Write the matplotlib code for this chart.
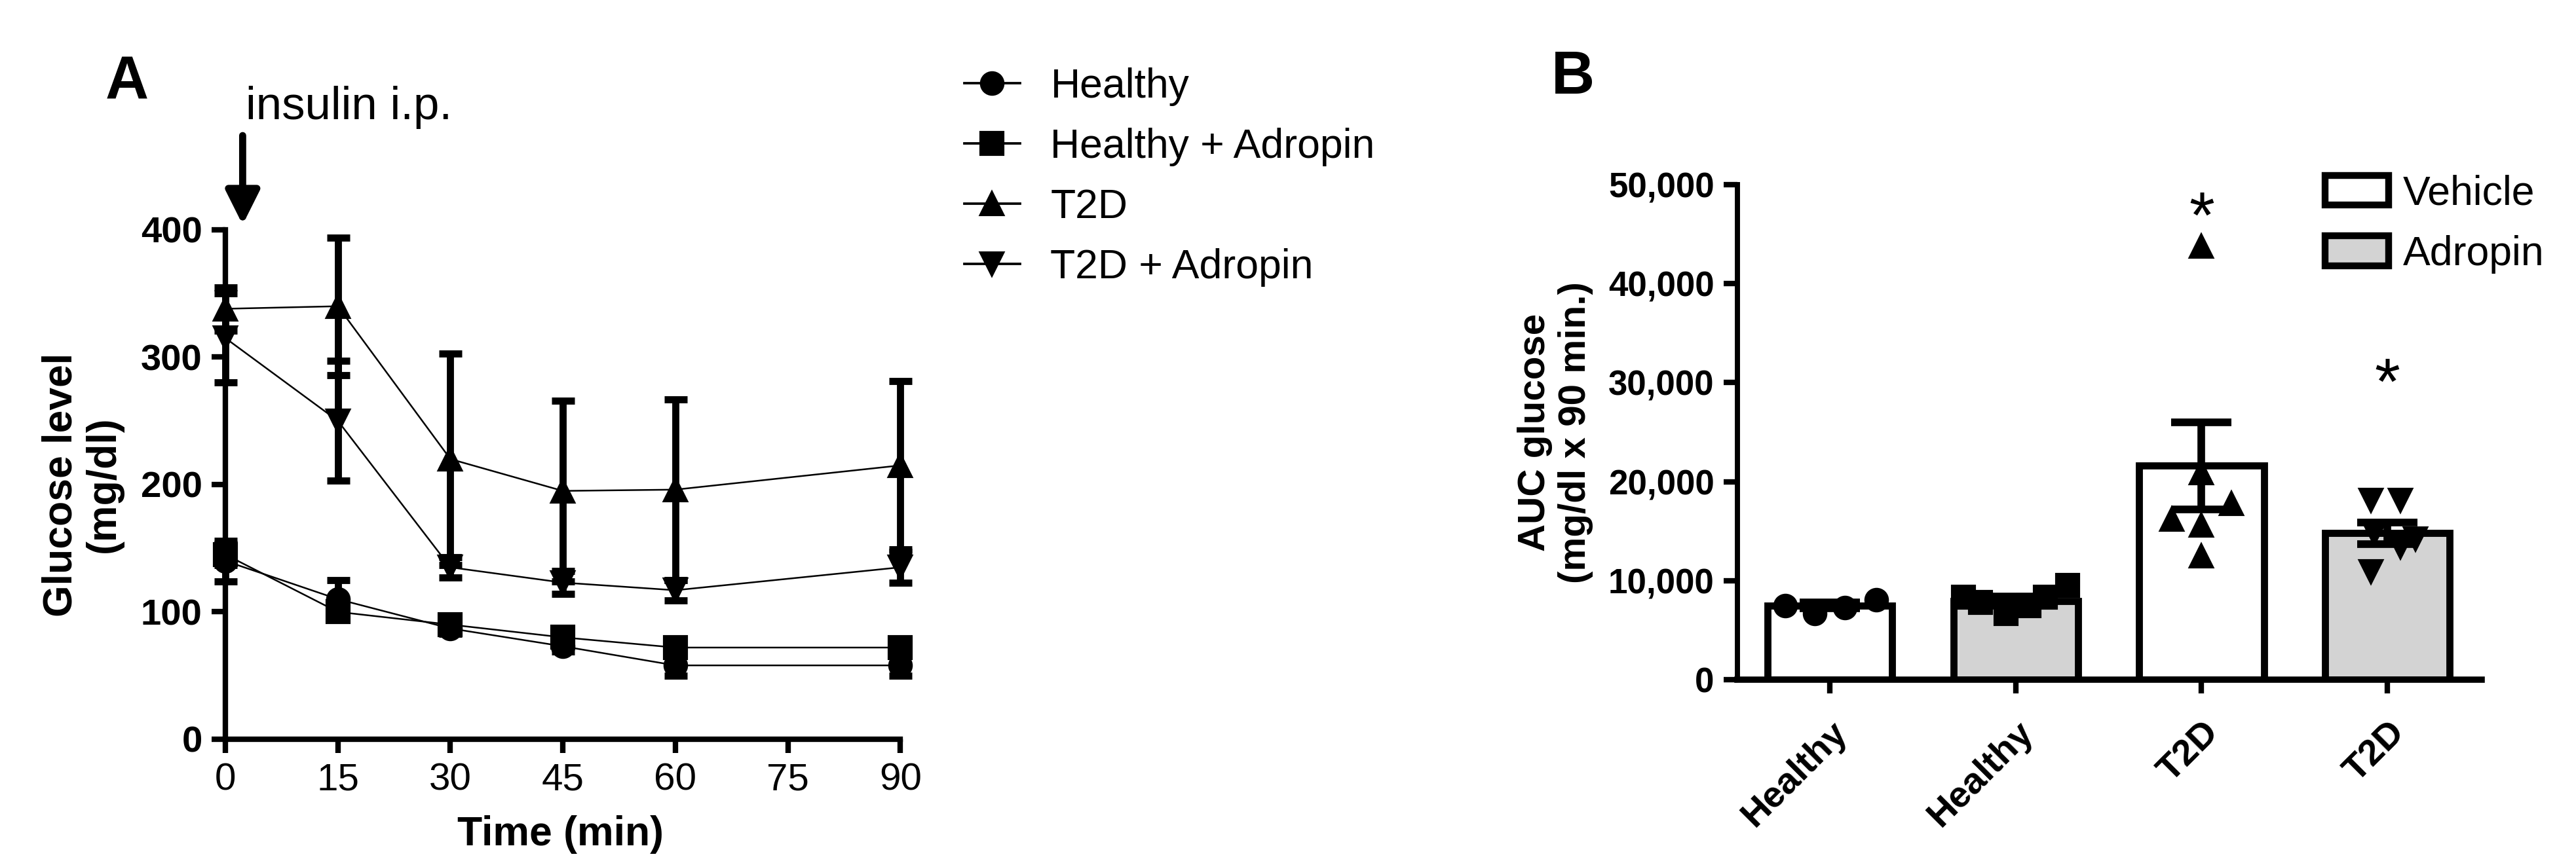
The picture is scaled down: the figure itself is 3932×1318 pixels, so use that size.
import numpy as np
import matplotlib
matplotlib.use('Agg')
import matplotlib.pyplot as plt
from matplotlib.patches import Patch
from matplotlib.lines import Line2D

plt.rcParams['font.family'] = ['Liberation Sans', 'DejaVu Sans']

# ---- panel A data: insulin tolerance test ----
time_min = [0, 15, 30, 45, 60, 90]
healthy = [140, 110, 87, 73, 58, 58]
healthy_err = [16, 15, 4, 4, 8, 8]
healthy_adr = [145, 100, 90, 80, 72, 72]
healthy_adr_err = [8, 5, 4, 4, 4, 4]
t2d = [338, 340, 220, 195, 196, 215]
t2d_err = [17, 54, 83, 71, 71, 66]
t2d_adr = [315, 250, 135, 123, 117, 135]
t2d_adr_err = [35, 47, 8, 9, 8, 12]
series_labels = ['Healthy', 'Healthy + Adropin', 'T2D', 'T2D + Adropin']
series_markers = ['o', 's', '^', 'v']

# ---- panel B data: AUC glucose ----
bar_labels = ['Healthy', 'Healthy', 'T2D', 'T2D']
bar_means = [7500, 7950, 21600, 14800]
bar_sem = [300, 450, 4400, 1100]
pts_healthy = [7500, 6700, 7250, 8100]
pts_healthy_adr = [8350, 7800, 6700, 7500, 8350, 9500]
pts_t2d = [43800, 16200, 15600, 17800, 12500, 20900]
pts_t2d_adr = [18100, 18100, 10900, 13400, 14200, 14800]
star_y = [46400, 29600]

fig = plt.figure(figsize=(3932 / 300, 1318 / 300), dpi=300)

# ================= A =================
axA = fig.add_axes([0.0875, 0.1434, 0.262, 0.5903])
ys = [healthy, healthy_adr, t2d, t2d_adr]
es = [healthy_err, healthy_adr_err, t2d_err, t2d_adr_err]
handles = []
for y, e, m, lab in zip(ys, es, series_markers, series_labels):
    axA.errorbar(time_min, y, yerr=e, fmt='none', ecolor='black',
                 elinewidth=2.6, capsize=4.2, capthick=2.6, zorder=2, clip_on=False)
    axA.plot(time_min, y, color='black', lw=0.6, marker=m, ms=8,
             mfc='black', mec='black', zorder=3, clip_on=False)
    handles.append(Line2D([0], [0], color='black', lw=0.9, marker=m, ms=8))

axA.set_xlim(0, 90)
axA.set_ylim(0, 400)
axA.set_xticks([0, 15, 30, 45, 60, 75, 90])
axA.set_yticks([0, 100, 200, 300, 400])
for s in ['top', 'right']:
    axA.spines[s].set_visible(False)
for s in ['left', 'bottom']:
    axA.spines[s].set_linewidth(2)
axA.tick_params(width=2, length=5)
axA.tick_params(axis='x', labelsize=14)
axA.tick_params(axis='y', labelsize=13.5)
for t in axA.get_yticklabels():
    t.set_fontweight('bold')
fig.text(0.2177, 0.033, 'Time (min)', fontsize=15, fontweight='bold',
         ha='center', va='center')
fig.text(0.032, 0.4385, 'Glucose level\n(mg/dl)', fontsize=15, fontweight='bold',
         ha='center', va='center', rotation=90, linespacing=1.15,
         multialignment='center')

axA.annotate('', xy=(2.3, 404), xytext=(2.3, 474), xycoords='data',
             arrowprops=dict(arrowstyle='-|>', color='black', lw=2.6,
                             mutation_scale=26, shrinkA=0, shrinkB=0),
             annotation_clip=False)
axA.text(2.7, 496, 'insulin i.p.', fontsize=17, va='center', ha='left',
         clip_on=False)

fig.legend(handles, series_labels, loc='upper left',
           bbox_to_anchor=(0.3744, 0.922), frameon=False, fontsize=15,
           handlelength=1.35, handletextpad=0.75, labelspacing=0.53,
           borderpad=0, borderaxespad=0)

fig.text(0.0494, 0.904, 'A', fontsize=22, fontweight='bold', ha='center', va='center')
fig.text(0.6107, 0.910, 'B', fontsize=22, fontweight='bold', ha='center', va='center')

# ================= B =================
axB = fig.add_axes([0.6745, 0.2124, 0.2889, 0.5736])
xpos = np.arange(len(bar_labels))
colors = ['white', '#d3d3d3', 'white', '#d3d3d3']
axB.bar(xpos, bar_means, width=0.67, color=colors, edgecolor='black',
        linewidth=2.6, zorder=1)
axB.errorbar(xpos, bar_means, yerr=bar_sem, fmt='none', ecolor='black',
             elinewidth=2.8, capsize=11, capthick=2.8, zorder=3)

point_sets = [pts_healthy, pts_healthy_adr, pts_t2d, pts_t2d_adr]
offsets = [[-0.24, -0.08, 0.08, 0.25],
           [-0.28, -0.19, -0.05, 0.07, 0.16, 0.28],
           [0.0, -0.16, 0.0, 0.16, 0.0, 0.0],
           [-0.09, 0.07, -0.09, 0.07, 0.15, -0.07]]
for i, (pts, off, m) in enumerate(zip(point_sets, offsets, series_markers)):
    axB.plot(i + np.array(off), pts, ls='none', marker=m, ms=8,
             color='black', zorder=4)

for xi, yi in zip([2, 3], star_y):
    axB.text(xi, yi, '*', fontsize=24, ha='center', va='center')

axB.set_xlim(-0.496, 3.507)
axB.set_ylim(0, 50000)
yt = [0, 10000, 20000, 30000, 40000, 50000]
axB.set_yticks(yt)
axB.set_yticklabels([f'{v:,}' for v in yt])
axB.set_xticks(xpos)
axB.set_xticklabels(bar_labels, rotation=45, ha='right', rotation_mode='anchor')
for s in ['top', 'right']:
    axB.spines[s].set_visible(False)
axB.spines['left'].set_linewidth(1.9)
axB.spines['bottom'].set_linewidth(2.3)
axB.tick_params(width=2, length=5)
axB.tick_params(axis='y', labelsize=12.7)
axB.tick_params(axis='x', labelsize=13.5, pad=8)
for t in axB.get_yticklabels() + axB.get_xticklabels():
    t.set_fontweight('bold')
fig.text(0.6038, 0.499, 'AUC glucose\n(mg/dl x 90 min.)', fontsize=14,
         fontweight='bold', ha='center', va='center', rotation=90,
         linespacing=1.2, multialignment='center')

legB = [Patch(facecolor='white', edgecolor='black', linewidth=2.5, label='Vehicle'),
        Patch(facecolor='#d3d3d3', edgecolor='black', linewidth=2.5, label='Adropin')]
fig.legend(handles=legB, loc='upper left', bbox_to_anchor=(0.9026, 0.798),
           frameon=False, fontsize=15, handlelength=1.55, handleheight=0.75,
           handletextpad=0.35, labelspacing=0.54, borderpad=0, borderaxespad=0)

fig.savefig('out.png', dpi=300)
